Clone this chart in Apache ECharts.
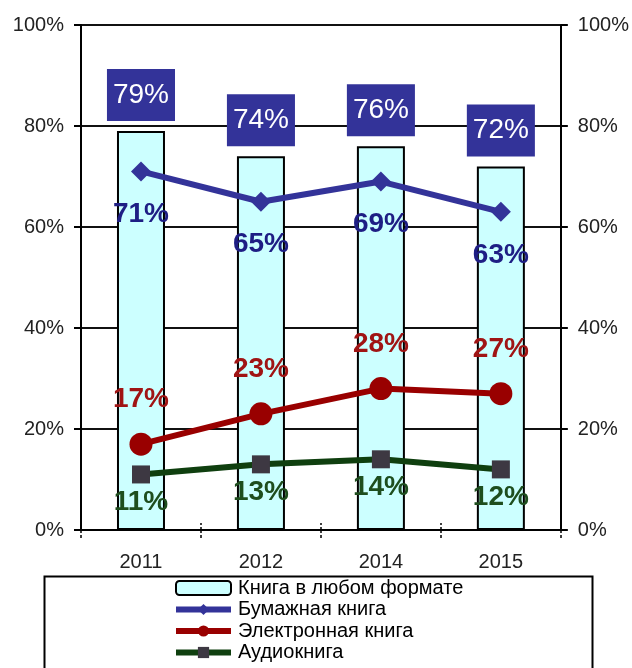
<!DOCTYPE html>
<html>
<head>
<meta charset="utf-8">
<script src="https://cdn.jsdelivr.net/npm/echarts@6/dist/echarts.min.js"></script>
<style>html,body{margin:0;padding:0;background:#fff}#c{width:632px;height:668px}</style>
</head>
<body>
<div id="c"></div>
<script>
const categories = ['2011', '2012', '2014', '2015'];
const anyFormat = [79, 74, 76, 72];
const paperBook = [71, 65, 69, 63];
const eBook = [17, 23, 28, 27];
const audioBook = [11, 13, 14, 12];
const seriesNames = ['Книга в любом формате', 'Бумажная книга', 'Электронная книга', 'Аудиокнига'];

const FONT = '"Liberation Sans", Arial, sans-serif';
const chart = echarts.init(document.getElementById('c'), null, {renderer: 'canvas'});

const yAxisCommon = {
  type: 'value', min: 0, max: 100, interval: 20,
  axisLine: {show: true, lineStyle: {color: '#000', width: 2}},
  axisTick: {show: true, inside: false, length: 7, lineStyle: {color: '#000', width: 2}},
  axisLabel: {formatter: '{value}%', color: '#222', fontSize: 20, fontFamily: FONT, margin: 17},
};

chart.setOption({
  animation: false,
  backgroundColor: '#fff',
  textStyle: {fontFamily: FONT},
  grid: {left: 81, right: 68, top: 25, bottom: 138, containLabel: false},
  xAxis: [
    {
      type: 'category', data: categories, position: 'bottom',
      axisLine: {lineStyle: {color: '#000', width: 2}},
      axisTick: {show: true, alignWithLabel: false, length: 8, lineStyle: {color: '#000', width: 1.5, type: [3, 2]}},
      axisLabel: {color: '#222', fontSize: 20, fontFamily: FONT, margin: 22},
      splitLine: {show: false}
    },
    {
      type: 'category', data: categories, position: 'bottom', offset: 0,
      axisLine: {show: false},
      axisTick: {show: true, inside: true, alignWithLabel: false, length: 7, lineStyle: {color: '#000', width: 1.5, type: [3, 2]}},
      axisLabel: {show: false},
      splitLine: {show: false}
    }
  ],
  yAxis: [
    Object.assign({}, yAxisCommon, {position: 'left',
      splitLine: {show: true, lineStyle: {color: '#111', width: 2}}}),
    Object.assign({}, yAxisCommon, {position: 'right', splitLine: {show: false}})
  ],
  legend: {
    orient: 'vertical', left: 173, top: 578, padding: 0,
    itemWidth: 55, itemHeight: 14, itemGap: 1.5,
    textStyle: {fontSize: 20, lineHeight: 20, color: '#000', fontFamily: FONT, padding: [0, 0, 0, 2]},
    data: [
      {name: seriesNames[0]},
      {name: seriesNames[1], lineStyle: {width: 6}},
      {name: seriesNames[2], lineStyle: {width: 6}},
      {name: seriesNames[3], lineStyle: {width: 6}}
    ]
  },
  graphic: [{
    type: 'rect', left: 42, top: 574, silent: true,
    shape: {width: 548, height: 110},
    style: {fill: 'none', stroke: '#000', lineWidth: 2}
  }],
  series: [
    {
      name: seriesNames[0], type: 'bar', data: anyFormat, barWidth: 48,
      itemStyle: {color: '#ccffff', borderColor: '#000', borderWidth: 2},
      label: {
        show: true, position: 'top', distance: 10, formatter: '{c}%',
        color: '#fff', fontSize: 28, fontFamily: FONT, lineHeight: 32,
        backgroundColor: '#333399', padding: [10, 6, 10, 6]
      },
      z: 2
    },
    {
      name: seriesNames[1], type: 'line', data: paperBook,
      symbol: 'diamond', symbolSize: 20,
      lineStyle: {color: '#333399', width: 6},
      itemStyle: {color: '#333399'},
      label: {show: true, position: 'bottom', distance: 19, formatter: '{c}%',
        color: '#1e1e84', fontSize: 28, fontWeight: 'bold', fontFamily: FONT},
      z: 5
    },
    {
      name: seriesNames[2], type: 'line', data: eBook,
      symbol: 'circle', symbolSize: 23,
      lineStyle: {color: '#990000', width: 6},
      itemStyle: {color: '#990000'},
      label: {show: true, position: 'top', distance: 19, formatter: '{c}%',
        color: '#a01414', fontSize: 28, fontWeight: 'bold', fontFamily: FONT},
      z: 5
    },
    {
      name: seriesNames[3], type: 'line', data: audioBook,
      symbol: 'rect', symbolSize: 18,
      lineStyle: {color: '#0f3f0f', width: 6},
      itemStyle: {color: '#3d3842'},
      label: {show: true, position: 'bottom', distance: 5, formatter: '{c}%',
        color: '#1e4e1e', fontSize: 28, fontWeight: 'bold', fontFamily: FONT},
      z: 5
    }
  ]
});
</script>
</body>
</html>
